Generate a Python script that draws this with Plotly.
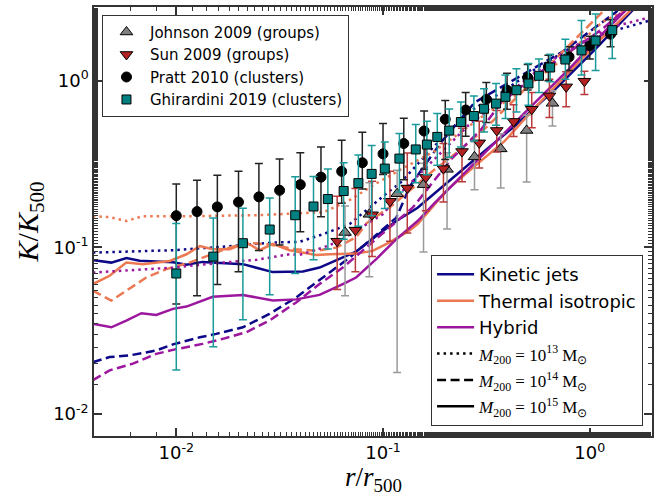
import plotly.graph_objects as go

# ---------------- observational entropy profiles ----------------
johnson_x = [0.0655, 0.0859, 0.117, 0.157, 0.204, 0.277, 0.371, 0.495, 0.660]
johnson_k = [0.123, 0.158, 0.210, 0.238, 0.294, 0.349, 0.390, 0.503, 0.732]
johnson_lo = [0.0513, 0.0667, 0.0178, 0.094, 0.129, 0.222, 0.227, 0.247, 0.535]
johnson_hi = [0.177, 0.244, 0.290, 0.320, 0.370, 0.430, 0.480, 0.620, 0.869]

sun_x = [0.060, 0.0735, 0.0885, 0.108, 0.131, 0.161, 0.196, 0.241, 0.292, 0.355,
         0.428, 0.524, 0.638, 0.769, 0.942]
sun_k = [0.109, 0.127, 0.157, 0.189, 0.227, 0.263, 0.297, 0.376, 0.424, 0.503,
         0.570, 0.674, 0.811, 0.918, 0.993]
sun_lo = [0.0559, 0.0714, 0.0883, 0.109, 0.122, 0.166, 0.187, 0.248, 0.300, 0.373,
          0.463, 0.523, 0.601, 0.697, 0.826]
sun_hi = [0.203, 0.226, 0.249, 0.286, 0.368, 0.398, 0.420, 0.519, 0.572, 0.663,
          0.718, 0.849, 1.02, 1.13, 1.14]

pratt_x = [0.01, 0.0126, 0.0158, 0.02, 0.0251, 0.0316, 0.0398, 0.0501, 0.0631, 0.0794,
           0.1, 0.126, 0.158, 0.2, 0.251, 0.316, 0.398, 0.501, 0.631, 0.794, 1.0, 1.26]
pratt_k = [0.155, 0.164, 0.175, 0.187, 0.201, 0.220, 0.238, 0.264, 0.286, 0.322,
           0.364, 0.420, 0.499, 0.587, 0.667, 0.774, 0.877, 1.045, 1.21, 1.39, 1.62, 1.90]
pratt_lo = [0.0458, 0.0513, 0.060, 0.0714, 0.096, 0.1035, 0.124, 0.153, 0.184, 0.224,
            0.274, 0.255, 0.294, 0.337, 0.465, 0.561, 0.674, 0.88, 1.0, 1.15, 1.35, 1.6]
pratt_hi = [0.240, 0.253, 0.271, 0.286, 0.319, 0.339, 0.370, 0.400, 0.440, 0.491,
            0.554, 0.595, 0.659, 0.762, 0.849, 0.976, 1.11, 1.25, 1.42, 1.60, 1.85, 2.32]

ghirardini_x = [0.0100, 0.0151, 0.0210, 0.0283, 0.0376, 0.0461, 0.0541, 0.0645, 0.0760,
                0.0881, 0.102, 0.120, 0.144, 0.163, 0.183, 0.209, 0.238, 0.275, 0.308,
                0.352, 0.391, 0.442, 0.505, 0.568, 0.643, 0.762, 0.912, 1.067, 1.285]
ghirardini_k = [0.0698, 0.0881, 0.106, 0.128, 0.156, 0.176, 0.195, 0.218, 0.243, 0.276,
                0.297, 0.341, 0.387, 0.414, 0.460, 0.502, 0.565, 0.614, 0.679, 0.729,
                0.800, 0.877, 0.962, 1.07, 1.20, 1.34, 1.52, 1.74, 2.01]
ghirardini_lo = [0.0184, 0.0254, 0.0368, 0.0521, 0.0697, 0.0843, 0.0977, 0.112, 0.134,
                 0.155, 0.171, 0.215, 0.244, 0.273, 0.311, 0.347, 0.400, 0.435, 0.492,
                 0.540, 0.593, 0.650, 0.713, 0.850, 0.987, 1.02, 1.08, 1.15, 1.36]
ghirardini_hi = [0.139, 0.150, 0.172, 0.198, 0.265, 0.266, 0.295, 0.322, 0.359, 0.408,
                 0.429, 0.482, 0.547, 0.571, 0.635, 0.677, 0.745, 0.809, 0.895, 0.961,
                 1.08, 1.18, 1.27, 1.35, 1.44, 1.77, 2.30, 2.51, 2.71]

# ---------------- simulated median profiles ----------------
# Kinetic jets
jet13_x = [0.00395, 0.00552, 0.00964, 0.0168, 0.0293, 0.0394, 0.0512, 0.0689, 0.0834,
           0.107, 0.121, 0.177, 0.257, 0.373, 0.543, 0.791, 1.24, 1.99]
jet13_k = [0.0931, 0.0944, 0.0962, 0.101, 0.107, 0.108, 0.120, 0.138, 0.168,
           0.217, 0.243, 0.405, 0.644, 0.848, 1.17, 1.55, 1.96, 2.31]
jet14_x = [0.00395, 0.00476, 0.00594, 0.00800, 0.00964, 0.0130, 0.0156, 0.0210, 0.0282,
           0.0380, 0.0512, 0.0689, 0.0891, 0.116, 0.135, 0.190, 0.277, 0.736, 1.34, 2.1]
jet14_k = [0.0205, 0.0220, 0.0225, 0.0241, 0.0262, 0.0289, 0.0303, 0.0332, 0.0399,
           0.0501, 0.0660, 0.0869, 0.114, 0.151, 0.233, 0.424, 0.739, 1.49, 2.58, 5.0]
jet15_x = [0.00398, 0.00485, 0.00574, 0.00665, 0.00964, 0.0112, 0.0134, 0.0156, 0.0210,
           0.0293, 0.0353, 0.0410, 0.0493, 0.0639, 0.0741, 0.0927, 0.116, 0.147, 0.177,
           0.277, 0.434, 0.681, 1.067, 1.67, 2.1]
jet15_k = [0.0839, 0.0811, 0.0863, 0.0831, 0.0816, 0.0787, 0.0819, 0.0811, 0.0794,
           0.0711, 0.0711, 0.0717, 0.0757, 0.0869, 0.0944, 0.117, 0.144, 0.173, 0.211,
           0.337, 0.535, 0.890, 1.55, 2.77, 3.6]

# Thermal isotropic
thm13_x = [0.00395, 0.00476, 0.00573, 0.00690, 0.0116, 0.0244, 0.0425, 0.0512, 0.0692,
           0.0933, 0.121, 0.177, 0.321, 0.434, 0.713, 1.15, 1.67]
thm13_k = [0.154, 0.152, 0.144, 0.154, 0.154, 0.156, 0.161, 0.162, 0.193,
           0.243, 0.292, 0.377, 0.644, 0.811, 1.30, 2.25, 2.84]
thm14_x = [0.00395, 0.00485, 0.00573, 0.00716, 0.00895, 0.0116, 0.0156, 0.0181, 0.0218,
           0.0282, 0.0380, 0.0475, 0.0593, 0.0741, 0.0834, 0.109, 0.136, 0.177, 0.238,
           0.321, 0.434, 0.586, 0.791, 1.03, 1.24, 2.1]
thm14_k = [0.0550, 0.0480, 0.0550, 0.0660, 0.0741, 0.0811, 0.0931, 0.0997, 0.107,
           0.104, 0.0975, 0.0953, 0.0997, 0.115, 0.140, 0.176, 0.222, 0.292, 0.387,
           0.535, 0.774, 1.12, 1.62, 2.24, 2.83, 6.0]
thm15_x = [0.00395, 0.00476, 0.00573, 0.00690, 0.00929, 0.0112, 0.0130, 0.0150, 0.0181,
           0.0218, 0.0253, 0.0293, 0.0353, 0.0475, 0.0551, 0.0741, 0.0891, 0.107, 0.134,
           0.147, 0.205, 0.277, 0.386, 0.543, 0.791, 1.15, 1.64, 2.1]
thm15_k = [0.0603, 0.0676, 0.0811, 0.0794, 0.0830, 0.0910, 0.102, 0.0975, 0.0975,
           0.107, 0.0962, 0.105, 0.0962, 0.0902, 0.0910, 0.0918, 0.0953, 0.107, 0.126,
           0.138, 0.222, 0.307, 0.432, 0.690, 1.12, 1.81, 2.77, 3.6]

# Hybrid
hyb13_x = [0.00395, 0.00552, 0.00800, 0.00964, 0.0168, 0.0243, 0.0353, 0.0394, 0.0512,
           0.0615, 0.0741, 0.0998, 0.121, 0.177, 0.257, 0.373, 0.543, 0.791, 1.285, 1.98]
hyb13_k = [0.0707, 0.0724, 0.0741, 0.0757, 0.0811, 0.0842, 0.0910, 0.0902, 0.0997,
           0.109, 0.126, 0.158, 0.211, 0.337, 0.535, 0.774, 1.12, 1.55, 2.10, 2.41]
hyb14_x = [0.00395, 0.00476, 0.00617, 0.00800, 0.00964, 0.0134, 0.0168, 0.0218, 0.0282,
           0.0380, 0.0493, 0.0639, 0.0828, 0.107, 0.139, 0.213, 0.298, 0.373, 0.543,
           0.791, 1.15, 1.43, 2.1]
hyb14_k = [0.0160, 0.0183, 0.0201, 0.0230, 0.0243, 0.0264, 0.0283, 0.0310, 0.0364,
           0.0468, 0.0603, 0.0757, 0.0997, 0.131, 0.173, 0.337, 0.510, 0.739, 1.07,
           1.48, 2.04, 2.58, 4.2]
hyb15_x = [0.00395, 0.00485, 0.00573, 0.00678, 0.00800, 0.00964, 0.0112, 0.0150, 0.0210,
           0.0293, 0.0380, 0.0493, 0.0639, 0.0741, 0.0927, 0.116, 0.147, 0.177, 0.257,
           0.373, 0.543, 0.791, 1.15, 1.55, 2.1]
hyb15_k = [0.0348, 0.0332, 0.0364, 0.0403, 0.0394, 0.0428, 0.0442, 0.0506, 0.0519,
           0.0480, 0.0488, 0.0519, 0.0603, 0.0660, 0.0851, 0.112, 0.144, 0.184, 0.292,
           0.465, 0.739, 1.17, 1.91, 2.77, 4.0]

model_names = ["Kinetic jets", "Thermal isotropic", "Hybrid"]
model_colors = ["#0d0887", "#ed7953", "#9c179e"]
model_profiles = [
    [(jet13_x, jet13_k), (jet14_x, jet14_k), (jet15_x, jet15_k)],
    [(thm13_x, thm13_k), (thm14_x, thm14_k), (thm15_x, thm15_k)],
    [(hyb13_x, hyb13_k), (hyb14_x, hyb14_k), (hyb15_x, hyb15_k)],
]
mass_exponents = ["13", "14", "15"]
mass_dashes = ["2.5px,4px", "9px,4.5px", "solid"]

LW = 2.5
fig = go.Figure()

# model curves (drawn beneath the observations)
for name, color, profiles in zip(model_names, model_colors, model_profiles):
    for (px, pk), dash in zip(profiles, mass_dashes):
        fig.add_trace(go.Scatter(
            x=px, y=pk, mode="lines", showlegend=False, hoverinfo="skip",
            line=dict(color=color, width=LW, dash=dash),
        ))


def add_obs(x, k, lo, hi, name, symbol, fill, bar_color, size):
    plus = [h - v for h, v in zip(hi, k)]
    minus = [v - l for v, l in zip(k, lo)]
    fig.add_trace(go.Scatter(
        x=x, y=k, mode="markers", name=name, legend="legend",
        marker=dict(symbol=symbol, size=size, color=fill,
                    line=dict(color="black", width=1)),
        error_y=dict(type="data", symmetric=False, array=plus, arrayminus=minus,
                     color=bar_color, thickness=1.5, width=4),
    ))


add_obs(johnson_x, johnson_k, johnson_lo, johnson_hi, "Johnson 2009 (groups)",
        "triangle-up", "#808080", "#9a9a9a", 11)
add_obs(sun_x, sun_k, sun_lo, sun_hi, "Sun 2009 (groups)",
        "triangle-down", "#b22222", "#b83a3a", 11)
add_obs(pratt_x, pratt_k, pratt_lo, pratt_hi, "Pratt 2010 (clusters)",
        "circle", "black", "#222222", 10)
add_obs(ghirardini_x, ghirardini_k, ghirardini_lo, ghirardini_hi,
        "Ghirardini 2019 (clusters)", "square", "#008080", "#1a9a9a", 9)

# legend entries for the simulation models and halo masses
for name, color in zip(model_names, model_colors):
    fig.add_trace(go.Scatter(x=[None], y=[None], mode="lines", name=name,
                             legend="legend2", line=dict(color=color, width=LW)))
serif = "font-family:'Liberation Serif', serif; font-size:17px"
for exp, dash in zip(mass_exponents, mass_dashes):
    label = (f"<span style=\"{serif}\"><i>M</i><sub>200</sub> = 10<sup>{exp}</sup>"
             f" M<sub>⊙</sub></span>")
    fig.add_trace(go.Scatter(x=[None], y=[None], mode="lines", name=label,
                             legend="legend2",
                             line=dict(color="black", width=LW, dash=dash)))

axis_common = dict(
    type="log", showline=True, linecolor="#333333", linewidth=1.5, mirror="allticks",
    ticks="inside", ticklen=8, tickwidth=1.5, tickcolor="#333333", showgrid=False,
    zeroline=False, tickfont=dict(family="DejaVu Sans", size=18, color="black"),
    minor=dict(ticks="inside", ticklen=4, tickwidth=1, tickcolor="#333333",
               showgrid=False),
)
tick_vals = [0.01, 0.1, 1]
tick_text = ["10<sup>-2</sup>", "10<sup>-1</sup>", "10<sup>0</sup>"]

fig.update_layout(
    width=671, height=500,
    margin=dict(l=94, r=19, t=5, b=64),
    paper_bgcolor="white", plot_bgcolor="white",
    font=dict(family="DejaVu Sans", size=15, color="black"),
    xaxis=dict(**axis_common, range=[-2.398, 0.301], tickvals=tick_vals,
               ticktext=tick_text),
    yaxis=dict(
        **axis_common, range=[-2.131, 0.442], tickvals=tick_vals, ticktext=tick_text,
        title=dict(text="<i>K</i>/<i>K</i><sub>500</sub>", standoff=6,
                   font=dict(family="Liberation Serif", size=30)),
    ),
    annotations=[dict(
        text="<i>r</i>/<i>r</i><sub>500</sub>", xref="paper", yref="paper",
        x=0.5, y=-0.144, xanchor="center", yanchor="bottom", showarrow=False,
        font=dict(family="Liberation Serif", size=27),
    )],
    legend=dict(x=0.0143, y=0.982, xanchor="left", yanchor="top",
                bgcolor="white", bordercolor="#333333", borderwidth=1,
                font=dict(size=15), itemwidth=37, tracegroupgap=0),
    legend2=dict(x=0.984, y=0.023, xanchor="right", yanchor="bottom",
                 bgcolor="white", bordercolor="#333333", borderwidth=1,
                 font=dict(size=18), itemwidth=37, tracegroupgap=0),
)

fig.write_html("out.html")
